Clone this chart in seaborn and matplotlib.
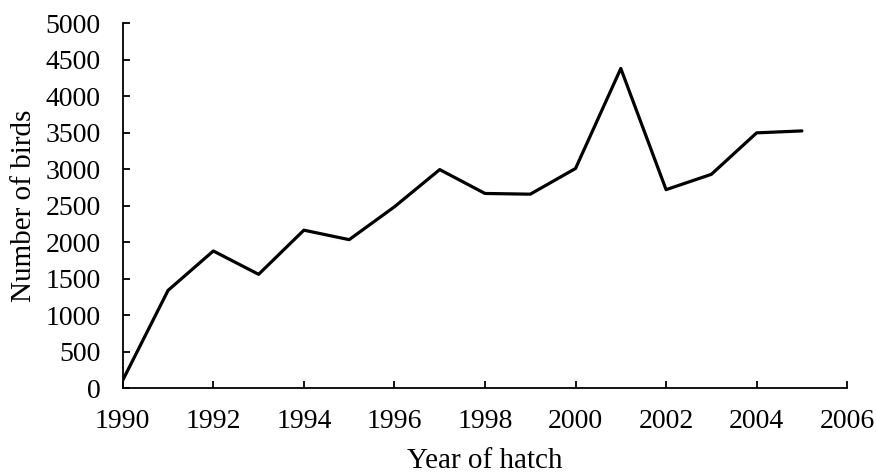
# line chart of birds hatched per year

import pandas as pd
import matplotlib
matplotlib.use("Agg")
import matplotlib.pyplot as plt
import seaborn as sns

years = [1990, 1991, 1992, 1993, 1994, 1995, 1996, 1997,
         1998, 1999, 2000, 2001, 2002, 2003, 2004, 2005]
birds = [110, 1340, 1880, 1560, 2165, 2035, 2485, 2995,
         2668, 2658, 3010, 4380, 2720, 2930, 3498, 3525]

x_ticks = list(range(1990, 2007, 2))
y_ticks = list(range(0, 5001, 500))

df = pd.DataFrame({"year": years, "birds": birds})

sns.set_style("ticks")
plt.rcParams["font.family"] = ["Liberation Serif", "DejaVu Serif"]
plt.rcParams["text.color"] = "black"
plt.rcParams["axes.labelcolor"] = "black"

fig = plt.figure(figsize=(8.77, 4.74), dpi=100)
ax = fig.add_axes([0.140, 0.181, 0.826, 0.770])

sns.lineplot(x="year", y="birds", data=df, color="black",
             linewidth=2.3, ax=ax)

ax.set_xlim(1990, 2006)
ax.set_ylim(0, 5000)
ax.set_xticks(x_ticks)
ax.set_yticks(y_ticks)
ax.tick_params(direction="in", length=5, width=1.3,
               labelsize=20, colors="black")
ax.tick_params(axis="x", pad=15)
ax.tick_params(axis="y", pad=16)
ax.set_xlabel("Year of hatch", fontsize=21, labelpad=10)
ax.set_ylabel("Number of birds", fontsize=21, labelpad=6)

for side in ["top", "right"]:
    ax.spines[side].set_visible(False)
for side in ["left", "bottom"]:
    ax.spines[side].set_linewidth(1.3)
    ax.spines[side].set_color("black")

fig.savefig("out.png", dpi=100)
